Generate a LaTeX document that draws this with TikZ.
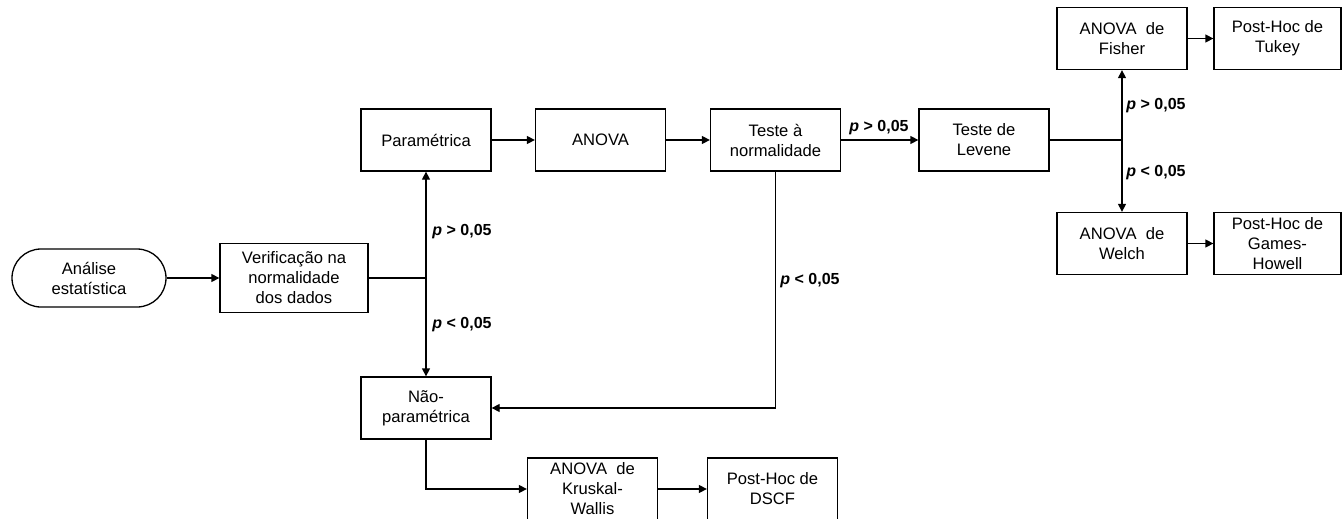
\documentclass[tikz,border=0pt]{standalone}
\usepackage{fontspec}
\setmainfont{Liberation Sans}
\usetikzlibrary{arrows.meta}

\begin{document}
\begin{tikzpicture}[x=1pt,y=-1pt,
  txt/.style={font=\fontsize{16.6}{20}\selectfont},
  box/.style={txt,draw,line width=1.3pt,minimum width=130pt,minimum height=62pt,
    align=center,inner sep=0pt},
  startbox/.style={box,minimum width=154pt,minimum height=58pt,rounded corners=29pt},
  conn/.style={line width=1.3pt},
  arr/.style={conn,-{Triangle[length=8pt,width=8pt]}},
  plabel/.style={font=\fontsize{16}{18.5}\selectfont\bfseries,inner sep=0pt}]
\clip (0,0) rectangle (1342,519);
\fill[white] (0,0) rectangle (1342,519);

% nodes
\node[startbox] (ana) at (89,278) {Análise\\estatística};
\node[box,minimum width=148pt,minimum height=69pt] (ver) at (294,278) {Verificação na\\normalidade\\dos dados};
\node[box] (par) at (426,140) {Paramétrica};
\node[box] (anova) at (600.5,140) {ANOVA};
\node[box] (teste) at (775.5,140) {Teste à\\normalidade};
\node[box] (lev) at (984,140) {Teste de\\Levene};
\node[box] (fisher) at (1122,38.5) {ANOVA\ \ de\\Fisher};
\node[box,minimum width=127pt] (tukey) at (1277.5,38.5) {Post-Hoc de\\Tukey};
\node[box] (welch) at (1122,243.5) {ANOVA\ \ de\\Welch};
\node[box,minimum width=127pt] (games) at (1277.5,243.5) {Post-Hoc de\\Games-\\Howell};
\node[box] (nao) at (426,408) {Não-\\paramétrica};
\node[box] (kw) at (592.5,489) {ANOVA\ \ de\\Kruskal-\\Wallis};
\node[box] (dscf) at (772.5,489) {Post-Hoc de\\DSCF};

% junctions
\coordinate (j1) at (426,278);
\coordinate (j2) at (1122,140);

% connectors
\draw[arr] (ana) -- (ver);
\draw[conn] (ver.east) -- (j1);
\draw[arr] (j1) -- (par.south);
\draw[arr] (j1) -- (nao.north);
\draw[arr] (par) -- (anova);
\draw[arr] (anova) -- (teste);
\draw[arr] (teste) -- (lev);
\draw[arr] (teste.south) |- (nao.east);
\draw[conn] (lev.east) -- (j2);
\draw[arr] (j2) -- (fisher.south);
\draw[arr] (j2) -- (welch.north);
\draw[arr] (fisher) -- (tukey);
\draw[arr] (welch) -- (games);
\draw[arr] (nao.south) |- (kw.west);
\draw[arr] (kw) -- (dscf);

% branch labels
\node[plabel] (l1) at (462,232) {\itshape p\upshape{} > 0,05};
\node[plabel] (l2) at (462,325) {\itshape p\upshape{} < 0,05};
\node[plabel] (l3) at (810,281) {\itshape p\upshape{} < 0,05};
\node[plabel] (l4) at (879,128) {\itshape p\upshape{} > 0,05};
\node[plabel] (l5) at (1156,106) {\itshape p\upshape{} > 0,05};
\node[plabel] (l6) at (1156,173) {\itshape p\upshape{} < 0,05};
\end{tikzpicture}
\end{document}
